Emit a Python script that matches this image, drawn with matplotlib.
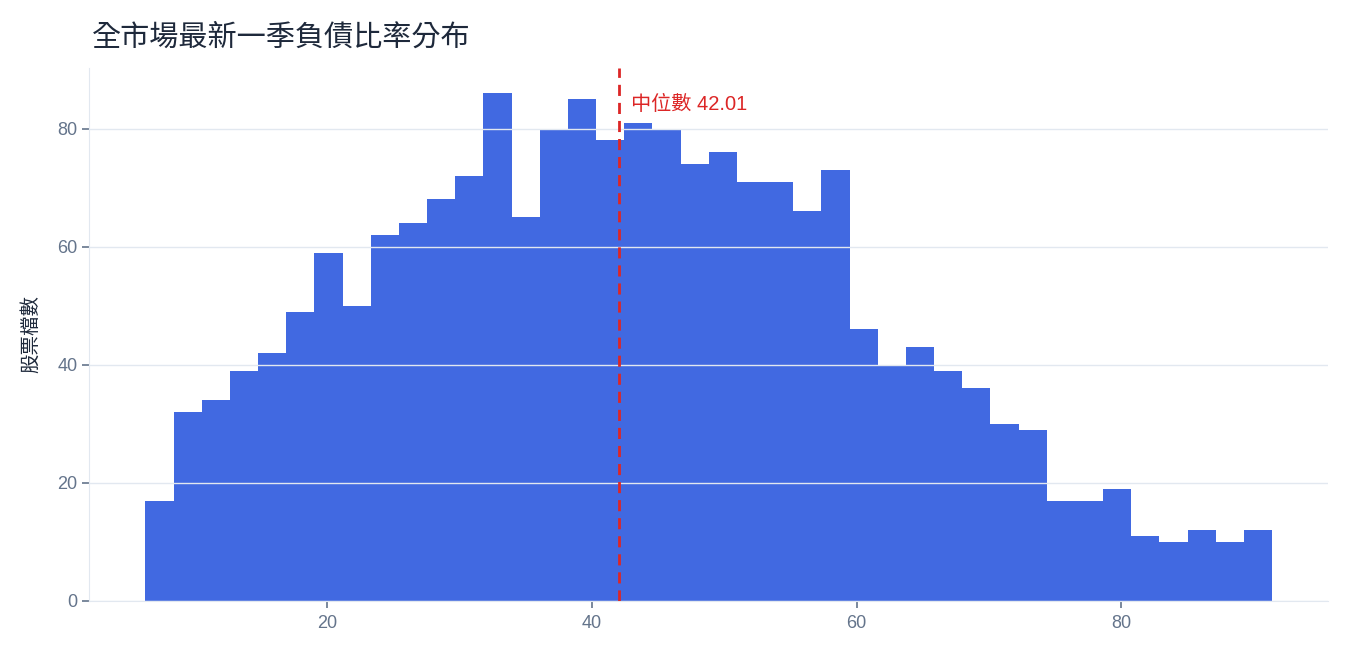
import numpy as np
from matplotlib import pyplot as plt

plt.rcParams['font.family'] = ['Liberation Sans', 'Noto Sans CJK TC', 'DejaVu Sans']

# debt ratio histogram, 40 bins
counts = [17, 32, 34, 39, 42, 49, 59, 50, 62, 64,
          68, 72, 86, 65, 80, 85, 78, 81, 80, 74,
          76, 71, 71, 66, 73, 46, 40, 43, 39, 36,
          30, 29, 17, 17, 19, 11, 10, 12, 10, 12]
ratio_min = 6.24
ratio_max = 91.4
median = 42.01
title = "全市場最新一季負債比率分布"
ylabel = "股票檔數"

edges = np.linspace(ratio_min, ratio_max, len(counts) + 1)
centers = (edges[:-1] + edges[1:]) / 2

fig = plt.figure(figsize=(13.5, 6.6), dpi=100)
ax = fig.add_axes([0.066, 0.0894, 0.918, 0.808])

ax.hist(centers, bins=edges, weights=counts, color="#4169e1", edgecolor="none")

ax.axvline(median, color="#dc2626", lw=2, ls=(0, (4, 2.5)), zorder=3)
ax.text(median + 0.9, 0.932, f"中位數 {median:.2f}", color="#dc2626",
        fontsize=14.5, va="center", ha="left",
        transform=ax.get_xaxis_transform())

ax.set_xticks([20, 40, 60, 80])
ax.set_yticks([0, 20, 40, 60, 80])
ax.grid(axis="y", color="#e2e8f0", lw=1)
ax.grid(axis="x", visible=False)

for side in ["top", "right"]:
    ax.spines[side].set_visible(False)
for side in ["left", "bottom"]:
    ax.spines[side].set_color("#e2e8f0")
ax.tick_params(colors="#64748b", labelsize=13, length=5, width=1.2)
ax.tick_params(axis="x", pad=5)

ax.set_ylabel(ylabel, fontsize=14, color="#1e293b", labelpad=12)
ax.set_title(title, loc="left", fontsize=21, color="#1e293b", pad=16, x=0.002)

fig.savefig("out.png")
